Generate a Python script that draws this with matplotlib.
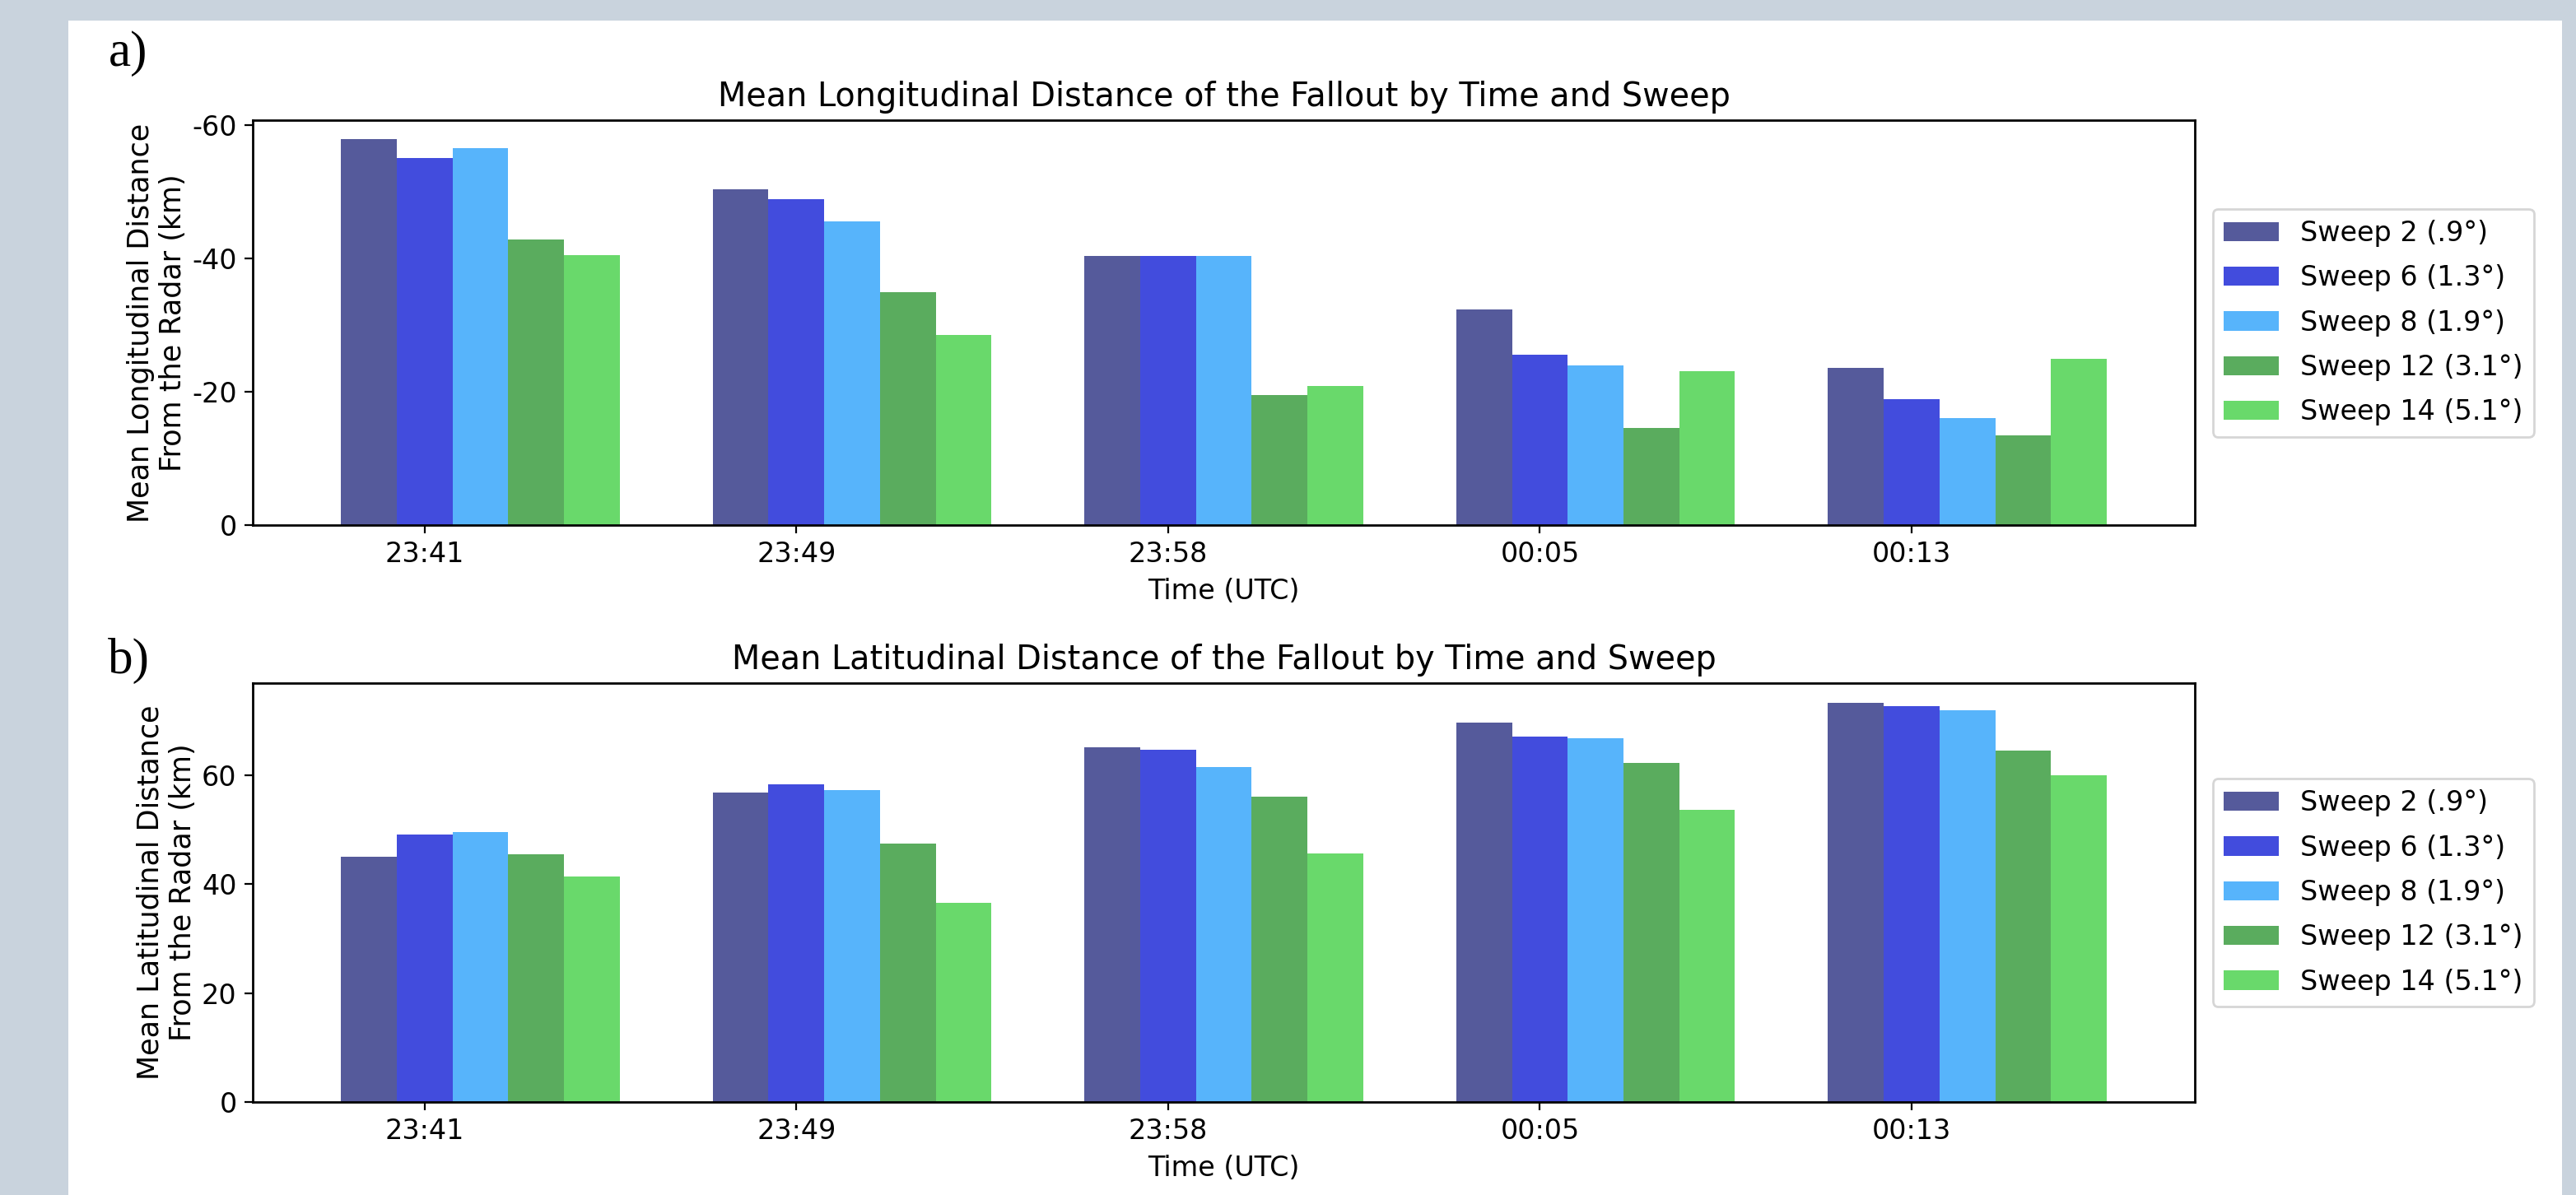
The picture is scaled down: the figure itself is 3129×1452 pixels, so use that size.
import numpy as np
import matplotlib
matplotlib.use('Agg')
import matplotlib.pyplot as plt
from matplotlib.patches import Rectangle

plt.rcParams['axes.unicode_minus'] = False

# data
times = ['23:41', '23:49', '23:58', '00:05', '00:13']
sweeps = ['Sweep 2 (.9°)', 'Sweep 6 (1.3°)', 'Sweep 8 (1.9°)', 'Sweep 12 (3.1°)', 'Sweep 14 (5.1°)']
colors = ['#555a9b', '#424cdd', '#57b4fb', '#5aac5e', '#69d96b']

# mean longitudinal distance (km), one list per sweep
lon_s2 = [-57.8, -50.3, -40.3, -32.3, -23.6]
lon_s6 = [-55.0, -48.8, -40.3, -25.5, -18.9]
lon_s8 = [-56.5, -45.5, -40.3, -23.9, -16.0]
lon_s12 = [-42.8, -34.9, -19.5, -14.6, -13.4]
lon_s14 = [-40.5, -28.5, -20.9, -23.1, -24.9]

# mean latitudinal distance (km)
lat_s2 = [45.0, 56.7, 65.1, 69.6, 73.2]
lat_s6 = [49.0, 58.3, 64.6, 67.1, 72.7]
lat_s8 = [49.6, 57.2, 61.4, 66.7, 71.9]
lat_s12 = [45.4, 47.4, 56.0, 62.2, 64.4]
lat_s14 = [41.4, 36.6, 45.6, 53.6, 60.0]

lon = [lon_s2, lon_s6, lon_s8, lon_s12, lon_s14]
lat = [lat_s2, lat_s6, lat_s8, lat_s12, lat_s14]

fig = plt.figure(figsize=(3129 / 200, 1452 / 200), dpi=200)
fig.patch.set_facecolor('#c9d3dd')
fig.patches.append(Rectangle((0.0265, 0.0), 0.968, 0.983, transform=fig.transFigure,
                             facecolor='white', edgecolor='none', zorder=-10))

ax1 = fig.add_axes([0.0981, 0.5606, 0.754, 0.3388])
ax2 = fig.add_axes([0.0981, 0.0778, 0.754, 0.3506])

x = np.arange(len(times))
w = 0.15


def draw(ax, data, title, ylabel, yticks):
    for i, vals in enumerate(data):
        ax.bar(x + (i - 1) * w, vals, w, color=colors[i], label=sweeps[i])
    ax.set_xticks(x)
    ax.set_xticklabels(times)
    ax.set_yticks(yticks)
    ax.set_title(title, fontsize=14.3)
    ax.set_xlabel('Time (UTC)', fontsize=12)
    ax.set_ylabel(ylabel, fontsize=12.6, labelpad=2)
    ax.tick_params(labelsize=12)
    for s in ax.spines.values():
        s.set_linewidth(1.0)
    ax.legend(loc='center left', bbox_to_anchor=(1.002, 0.5), fontsize=12,
              labelspacing=0.64, borderpad=0.4)


draw(ax1, lon, 'Mean Longitudinal Distance of the Fallout by Time and Sweep',
     'Mean Longitudinal Distance\nFrom the Radar (km)', [0, -20, -40, -60])
ax1.invert_yaxis()
draw(ax2, lat, 'Mean Latitudinal Distance of the Fallout by Time and Sweep',
     'Mean Latitudinal Distance\nFrom the Radar (km)', [0, 20, 40, 60])

fig.text(0.042, 0.955, 'a)', family='Liberation Serif', fontsize=22, va='center')
fig.text(0.042, 0.447, 'b)', family='Liberation Serif', fontsize=22, va='center')

fig.savefig('out.png', dpi=200, facecolor=fig.get_facecolor())
